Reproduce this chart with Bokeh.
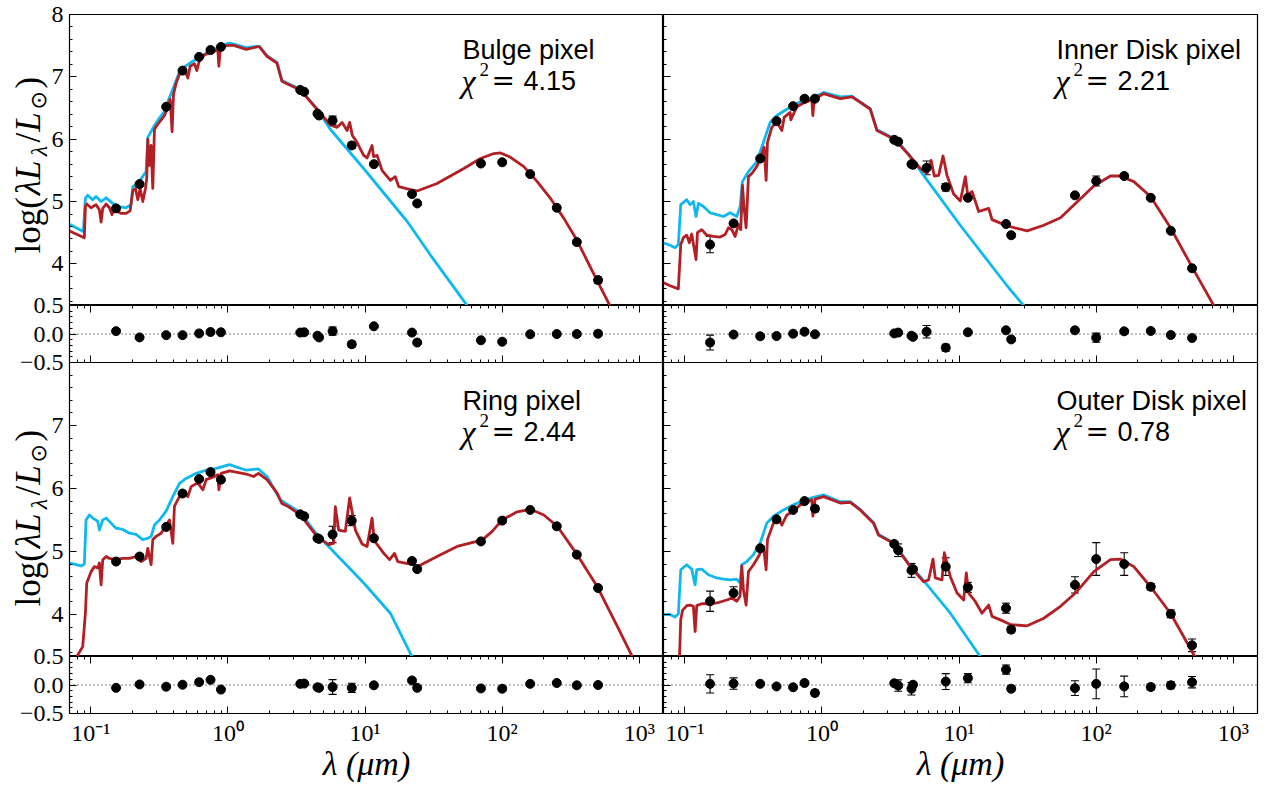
import math
from bokeh.plotting import figure
from bokeh.models import (Range1d, FixedTicker, CustomJSTickFormatter, LogAxis, Label,
                          Span, Whisker, TeeHead, ColumnDataSource)
from bokeh.layouts import row, column
from bokeh.embed import file_html
from bokeh.resources import INLINE

# ---------------------------------------------------------------- data
PANEL_NAMES = ["Bulge pixel", "Inner Disk pixel", "Ring pixel", "Outer Disk pixel"]
CHI2 = ["4.15", "2.21", "2.44", "0.78"]

# photometric bands (micron)
LAM_OBS = [0.153, 0.227, 0.355, 0.467, 0.617, 0.747, 0.89, 3.37, 3.6, 4.5, 4.62, 5.8,
           8.0, 11.6, 22.0, 24.0, 70.0, 100.0, 160.0, 250.0, 350.0, 500.0]

BULGE_OBS = [4.89, 5.28, 6.52, 7.10, 7.32, 7.43, 7.48, 6.79, 6.76, 6.41, 6.38, 6.30,
             5.90, 5.60, 5.12, 4.97, 5.61, 5.63, 5.44, 4.90, 4.35, 3.74]
BULGE_ERR = [0.02, 0.02, 0.02, 0.02, 0.02, 0.02, 0.02, 0.02, 0.02, 0.02, 0.02, 0.07,
             0.05, 0.02, 0.02, 0.03, 0.03, 0.03, 0.02, 0.02, 0.03, 0.05]
BULGE_RES = [0.05, -0.06, -0.02, -0.02, 0.01, 0.035, 0.03, 0.025, 0.03, -0.03, -0.06, 0.05,
             -0.18, 0.135, 0.025, -0.15, -0.11, -0.135, -0.005, 0.0, 0.0, 0.005]

INNER_OBS = [4.31, 4.65, 5.69, 6.29, 6.53, 6.65, 6.65, 5.99, 5.96, 5.60, 5.59, 5.54,
             5.23, 5.06, 4.64, 4.46, 5.10, 5.33, 5.41, 5.06, 4.53, 3.93]
INNER_ERR = [0.13, 0.03, 0.02, 0.02, 0.02, 0.02, 0.02, 0.02, 0.02, 0.02, 0.02, 0.11,
             0.06, 0.02, 0.02, 0.03, 0.03, 0.08, 0.03, 0.02, 0.03, 0.03]
INNER_RES = [-0.15, -0.01, -0.04, -0.035, 0.005, 0.04, -0.005, 0.01, 0.025, -0.03, -0.05, 0.04,
             -0.24, 0.03, 0.065, -0.095, 0.065, -0.065, 0.047, 0.053, -0.018, -0.07]

RING_OBS = [4.84, 4.92, 5.39, 5.92, 6.15, 6.26, 6.14, 5.59, 5.56, 5.21, 5.20, 5.27,
            5.49, 5.21, 4.85, 4.72, 5.16, 5.49, 5.66, 5.40, 4.95, 4.42]
RING_ERR = [0.03, 0.03, 0.03, 0.02, 0.02, 0.02, 0.02, 0.02, 0.03, 0.02, 0.02, 0.13,
            0.08, 0.03, 0.03, 0.03, 0.03, 0.04, 0.02, 0.02, 0.02, 0.02]
RING_RES = [-0.05, 0.01, -0.03, 0.005, 0.05, 0.09, -0.08, 0.02, 0.025, -0.04, -0.05, -0.035,
            -0.05, -0.005, 0.08, -0.05, -0.06, -0.065, 0.02, 0.035, -0.005, 0.0]

OUTER_OBS = [4.21, 4.34, 5.05, 5.51, 5.66, 5.80, 5.68, 5.12, 5.02, 4.70, 4.72, None,
             4.76, 4.43, 4.10, 3.76, 4.47, 4.88, 4.80, 4.44, 4.01, 3.51]
OUTER_ERR = [0.16, 0.10, 0.02, 0.02, 0.02, 0.02, 0.05, 0.02, 0.10, 0.11, 0.02, None,
             0.14, 0.08, 0.08, 0.05, 0.13, 0.26, 0.18, 0.05, 0.06, 0.10]
OUTER_RES = [0.02, 0.025, 0.02, -0.025, -0.04, 0.035, -0.14, 0.03, -0.01, -0.065, 0.005, None,
             0.06, 0.12, 0.27, -0.065, -0.055, 0.02, -0.025, -0.035, -0.005, 0.05]

# model SEDs: (lambda [micron], log(lambda L_lambda / Lsun))
BULGE_RED = [(0.0695, 4.53), (0.0781, 4.48), (0.0898, 4.42), (0.0914, 4.92), (0.0935, 4.96),
             (0.1005, 4.90), (0.1093, 4.95), (0.1156, 4.87), (0.119, 4.67), (0.1223, 4.89),
             (0.1294, 4.96), (0.1368, 4.90), (0.143, 4.79), (0.1488, 4.90), (0.1574, 4.84),
             (0.1664, 4.81), (0.181, 4.81), (0.1936, 4.85), (0.2025, 5.17), (0.2118, 5.21),
             (0.2203, 5.03), (0.229, 5.21), (0.2395, 5.00), (0.2505, 5.21), (0.256, 5.37),
             (0.2606, 6.00), (0.268, 5.58), (0.2755, 5.90), (0.2834, 5.21), (0.2914, 6.16),
             (0.3083, 6.24), (0.326, 6.31), (0.3447, 6.38), (0.3646, 6.51), (0.3793, 6.64),
             (0.392, 6.12), (0.401, 6.72), (0.4195, 6.90), (0.4436, 7.04), (0.4825, 7.12),
             (0.5105, 6.98), (0.5307, 7.17), (0.5706, 7.21), (0.5935, 7.10), (0.6207, 7.27),
             (0.675, 7.35), (0.7345, 7.39), (0.7988, 7.41), (0.845, 7.43), (0.859, 7.17),
             (0.879, 7.44), (0.972, 7.50), (1.087, 7.51), (1.36, 7.44), (1.628, 7.48),
             (1.70, 7.48), (1.926, 7.33), (2.279, 7.22), (2.478, 6.93), (2.696, 6.89),
             (3.37, 6.79), (4.46, 6.48), (5.58, 6.23), (6.25, 6.19), (6.80, 6.27),
             (7.39, 6.14), (7.72, 6.27), (8.08, 6.06), (8.74, 5.95), (9.77, 5.74),
             (10.34, 5.70), (11.25, 5.90), (11.55, 5.72), (12.24, 5.74), (13.3, 5.50),
             (15.3, 5.34), (16.6, 5.40), (17.6, 5.24), (21.4, 5.19), (24.0, 5.17),
             (33.5, 5.29), (52.5, 5.53), (69.4, 5.69), (86.8, 5.77), (97.2, 5.78),
             (115.0, 5.71), (143.8, 5.56), (180.0, 5.32), (225.0, 5.05), (281.6, 4.73),
             (352.7, 4.37), (441.0, 3.94), (610.0, 3.33)]
BULGE_BLUE = [(0.0695, 4.64), (0.0781, 4.58), (0.0883, 4.52), (0.0914, 5.05), (0.0950, 5.10),
              (0.1034, 5.03), (0.1093, 5.08), (0.119, 5.00), (0.1294, 5.06), (0.1447, 4.97),
              (0.1618, 4.92), (0.181, 4.90), (0.1968, 4.95), (0.2025, 5.24), (0.2203, 5.29),
              (0.2533, 5.48), (0.2606, 6.03), (0.2914, 6.22), (0.3169, 6.34), (0.3447, 6.45),
              (0.3646, 6.60), (0.3966, 6.80), (0.4195, 6.94), (0.4436, 7.08), (0.4825, 7.16),
              (0.5549, 7.25), (0.6207, 7.31), (0.6945, 7.38), (0.7988, 7.44), (0.8688, 7.48),
              (0.972, 7.53), (1.028, 7.54), (1.087, 7.53), (1.36, 7.47), (1.628, 7.49),
              (1.70, 7.49), (1.926, 7.34), (2.279, 7.23), (2.478, 6.94), (2.696, 6.90),
              (3.37, 6.80), (4.46, 6.49), (5.58, 6.16), (9.77, 5.53), (20.3, 4.68),
              (29.8, 4.15), (55.6, 3.33)]

INNER_RED = [(0.0695, 3.70), (0.0781, 3.65), (0.0898, 3.60), (0.0935, 4.31), (0.0977, 4.42),
             (0.1034, 4.46), (0.1081, 4.34), (0.1124, 4.48), (0.1209, 4.07), (0.1237, 4.50),
             (0.133, 4.55), (0.1447, 4.46), (0.1618, 4.44), (0.181, 4.43), (0.1968, 4.47),
             (0.2083, 4.58), (0.2203, 4.55), (0.2329, 4.44), (0.2463, 4.63), (0.256, 4.55),
             (0.2634, 5.26), (0.271, 4.89), (0.2802, 4.58), (0.2914, 5.40), (0.3083, 5.45),
             (0.3352, 5.56), (0.3646, 5.77), (0.3793, 5.87), (0.392, 5.34), (0.401, 5.95),
             (0.4312, 6.19), (0.469, 6.28), (0.5105, 6.14), (0.5307, 6.35), (0.5869, 6.43),
             (0.5935, 6.31), (0.6566, 6.52), (0.7345, 6.58), (0.845, 6.63), (0.859, 6.38),
             (0.879, 6.64), (1.028, 6.73), (1.36, 6.65), (1.656, 6.68), (1.904, 6.59),
             (2.253, 6.48), (2.52, 6.14), (2.74, 6.10), (3.43, 5.99), (4.29, 5.75),
             (5.22, 5.53), (5.84, 5.45), (6.25, 5.66), (6.60, 5.41), (7.10, 5.42),
             (7.64, 5.73), (8.17, 5.42), (9.13, 5.12), (10.22, 5.01), (11.12, 5.40),
             (11.56, 5.11), (12.45, 5.16), (13.9, 4.84), (16.45, 4.89), (17.4, 4.71),
             (22.4, 4.61), (31.4, 4.53), (41.5, 4.62), (54.9, 4.74), (70.6, 4.97),
             (96.1, 5.25), (127.0, 5.41), (150.0, 5.41), (188.0, 5.32), (249.0, 5.08),
             (348.0, 4.58), (515.0, 3.90), (721.0, 3.33)]
INNER_BLUE = [(0.0695, 4.34), (0.0781, 4.30), (0.0849, 4.26), (0.0898, 4.31), (0.0935, 4.95),
              (0.1034, 5.03), (0.1093, 4.95), (0.1156, 5.00), (0.1209, 4.76), (0.1258, 4.97),
              (0.1368, 4.92), (0.153, 4.82), (0.1712, 4.79), (0.1914, 4.76), (0.2141, 4.82),
              (0.2395, 4.76), (0.2533, 4.92), (0.2634, 5.32), (0.2914, 5.48), (0.3352, 5.64),
              (0.375, 5.95), (0.4195, 6.27), (0.469, 6.38), (0.5549, 6.48), (0.6945, 6.60),
              (0.8688, 6.67), (1.028, 6.75), (1.36, 6.68), (1.656, 6.69), (1.904, 6.60),
              (2.253, 6.49), (2.52, 6.15), (2.74, 6.11), (3.43, 6.00), (4.29, 5.76),
              (5.52, 5.42), (10.2, 4.62), (22.4, 3.65), (29.6, 3.33)]

RING_RED = [(0.0781, 3.31), (0.0874, 3.49), (0.0914, 4.02), (0.0935, 4.50), (0.0966, 4.58),
            (0.1005, 4.68), (0.1063, 4.76), (0.1124, 4.74), (0.1156, 4.82), (0.119, 4.47),
            (0.1223, 4.87), (0.1294, 4.92), (0.1368, 4.89), (0.153, 4.87), (0.1712, 4.89),
            (0.1914, 4.89), (0.2141, 4.92), (0.2329, 4.84), (0.2533, 4.89), (0.2606, 5.05),
            (0.2755, 4.79), (0.2834, 5.19), (0.2997, 5.24), (0.326, 5.29), (0.3544, 5.42),
            (0.375, 5.50), (0.3966, 5.13), (0.4077, 5.72), (0.4436, 5.87), (0.4825, 5.95),
            (0.5105, 5.87), (0.5396, 6.03), (0.6035, 6.09), (0.6566, 5.98), (0.6945, 6.14),
            (0.7769, 6.18), (0.845, 6.22), (0.859, 5.98), (0.8935, 6.24), (1.028, 6.28),
            (1.36, 6.23), (1.54, 6.19), (1.67, 6.24), (1.93, 6.14), (2.28, 5.93),
            (2.48, 5.76), (2.77, 5.71), (3.37, 5.58), (4.46, 5.24), (5.43, 5.11),
            (5.90, 5.13), (6.07, 5.71), (6.42, 5.34), (7.18, 5.32), (7.72, 5.85),
            (8.50, 5.34), (9.51, 5.12), (10.34, 5.08), (11.25, 5.53), (11.69, 5.17),
            (13.7, 4.97), (15.1, 4.87), (16.4, 4.97), (17.3, 4.84), (21.4, 4.80),
            (24.6, 4.77), (33.5, 4.92), (46.9, 5.08), (62.1, 5.15), (71.4, 5.18),
            (84.5, 5.32), (100.0, 5.50), (128.5, 5.63), (161.0, 5.67), (201.0, 5.58),
            (252.0, 5.40), (352.0, 4.95), (494.0, 4.44), (691.0, 3.81), (889.0, 3.33)]
RING_BLUE = [(0.0695, 4.82), (0.0781, 4.79), (0.0849, 4.77), (0.0898, 4.80), (0.0924, 5.50),
             (0.0977, 5.58), (0.1034, 5.53), (0.1124, 5.48), (0.1156, 5.34), (0.1223, 5.50),
             (0.1294, 5.53), (0.1406, 5.45), (0.153, 5.37), (0.1712, 5.35), (0.1914, 5.29),
             (0.2141, 5.27), (0.2395, 5.19), (0.2606, 5.21), (0.2755, 5.24), (0.2914, 5.42),
             (0.3169, 5.50), (0.3544, 5.64), (0.3966, 5.87), (0.4436, 6.08), (0.4961, 6.16),
             (0.5869, 6.24), (0.6945, 6.29), (0.8214, 6.32), (1.028, 6.38), (1.36, 6.29),
             (1.67, 6.31), (1.93, 6.19), (2.41, 5.82), (3.37, 5.62), (4.46, 5.27),
             (5.58, 5.05), (9.78, 4.50), (15.3, 4.02), (22.0, 3.33)]

OUTER_RED = [(0.0914, 3.28), (0.0935, 3.92), (0.0966, 4.07), (0.1034, 4.14), (0.1093, 4.15),
             (0.1156, 4.13), (0.119, 3.73), (0.1223, 4.14), (0.133, 4.17), (0.153, 4.17),
             (0.176, 4.19), (0.2025, 4.23), (0.2203, 4.26), (0.2395, 4.21), (0.2533, 4.29),
             (0.2606, 4.77), (0.268, 4.39), (0.2802, 4.15), (0.2914, 4.68), (0.3169, 4.79),
             (0.3447, 4.92), (0.375, 5.08), (0.392, 4.71), (0.401, 5.19), (0.4436, 5.45),
             (0.4825, 5.53), (0.5105, 5.42), (0.5549, 5.58), (0.6207, 5.64), (0.6945, 5.74),
             (0.7769, 5.78), (0.845, 5.82), (0.859, 5.56), (0.8935, 5.83), (1.028, 5.87),
             (1.36, 5.77), (1.61, 5.78), (1.90, 5.66), (2.38, 5.45), (2.59, 5.26),
             (3.33, 5.13), (4.41, 4.76), (5.52, 4.52), (6.0, 4.55), (6.46, 4.88),
             (6.71, 4.58), (7.51, 4.55), (7.81, 4.98), (8.64, 4.60), (9.67, 4.34),
             (10.8, 4.23), (11.3, 4.66), (11.75, 4.34), (13.1, 4.21), (14.7, 4.02),
             (16.45, 4.15), (17.4, 3.97), (21.2, 3.89), (23.7, 3.84), (31.4, 3.82),
             (41.5, 3.94), (54.9, 4.13), (70.6, 4.34), (96.1, 4.68), (127.0, 4.87),
             (150.0, 4.88), (188.0, 4.76), (249.0, 4.44), (348.0, 4.02), (515.0, 3.36),
             (533.0, 3.31)]
OUTER_BLUE = [(0.0695, 4.00), (0.0781, 4.00), (0.0849, 3.96), (0.0898, 4.01), (0.0935, 4.71),
              (0.1034, 4.79), (0.1124, 4.72), (0.119, 4.47), (0.1223, 4.71), (0.133, 4.72),
              (0.1488, 4.63), (0.1712, 4.58), (0.1914, 4.56), (0.2141, 4.55), (0.2395, 4.56),
              (0.2533, 4.50), (0.2606, 4.79), (0.2834, 4.84), (0.3169, 4.95), (0.3544, 5.13),
              (0.3966, 5.45), (0.4436, 5.56), (0.5248, 5.66), (0.6207, 5.74), (0.7345, 5.81),
              (0.8688, 5.86), (1.028, 5.90), (1.36, 5.79), (1.61, 5.79), (1.90, 5.67),
              (2.38, 5.46), (2.59, 5.27), (3.33, 5.14), (4.41, 4.77), (5.22, 4.60),
              (8.64, 4.02), (14.3, 3.33)]

PANELS = [
    (BULGE_RED, BULGE_BLUE, BULGE_OBS, BULGE_ERR, BULGE_RES),
    (INNER_RED, INNER_BLUE, INNER_OBS, INNER_ERR, INNER_RES),
    (RING_RED, RING_BLUE, RING_OBS, RING_ERR, RING_RES),
    (OUTER_RED, OUTER_BLUE, OUTER_OBS, OUTER_ERR, OUTER_RES),
]

# axis settings
X_RANGE = (0.07, 1500.0)
Y_MAIN = (3.333, 8.0)
Y_RES = (-0.5, 0.5)
X_MAJOR = [0.1, 1.0, 10.0, 100.0, 1000.0]
X_MINOR = [round(m * d, 4) for d in (0.01, 0.1, 1.0, 10.0, 100.0) for m in range(2, 10)
           if X_RANGE[0] <= m * d <= X_RANGE[1]]
Y_MAJOR_TOP = [4, 5, 6, 7, 8]
Y_MAJOR_BOT = [4, 5, 6, 7]
Y_MINOR = [3.4, 3.6, 3.8, 4.2, 4.4, 4.6, 4.8, 5.2, 5.4, 5.6, 5.8, 6.2, 6.4, 6.6, 6.8,
           7.2, 7.4, 7.6, 7.8]
R_MAJOR = [-0.5, 0.0, 0.5]
R_MINOR = [-0.4, -0.3, -0.2, -0.1, 0.1, 0.2, 0.3, 0.4]
X_LABEL = "\u03bb (\u03bcm)"

RED = "#B21F24"
BLUE = "#10B8EE"
SERIF = "Liberation Serif"
SANS = "Liberation Sans"

FRAME_W = 594
FRAME_MAIN, FRAME_RES = 294, 57
TOP_BORDER = 14                          # room above the first row for the "8" label
FRAME_TOP = FRAME_MAIN + 11 - TOP_BORDER  # first-row frame ends at the same place
YLAB_W = 46          # visible width of the strip holding the rotated y label
YLAB_CANVAS = 160    # its canvas is wider and slides under the panel's border
LEFT_BORDER = 69     # page x of the left frames
PAD = 18

EMPTY = "return '';"
EXP_FMT = ("const e = Math.round(Math.log10(tick));"
           "const s = {'-':'\u207b','0':'\u2070','1':'\u00b9','2':'\u00b2','3':'\u00b3'};"
           "return '10' + String(e).split('').map(c => s[c]).join('');")
RES_FMT = ("if (Math.abs(tick) < 1e-9) return '0.0';"
           "return (tick < 0 ? '\u2212' : '') + Math.abs(tick).toFixed(1);")
INT_FMT = "return tick.toFixed(0);"


def style_axis(ax, code, labels=True):
    ax.major_tick_in = 7
    ax.major_tick_out = 0
    ax.minor_tick_in = 3
    ax.minor_tick_out = 0
    ax.axis_line_color = "black"
    ax.axis_line_width = 1
    ax.major_tick_line_color = "black"
    ax.minor_tick_line_color = "black"
    ax.major_label_text_font = SERIF
    ax.major_label_text_font_size = "24px"
    ax.major_label_text_color = "black"
    ax.formatter = CustomJSTickFormatter(code=code if labels else EMPTY)
    ax.major_label_standoff = 6 if labels else 0


def base_fig(frame_h, y_range, left_border, right_border, top_border, bottom_border, x_loc):
    p = figure(frame_width=FRAME_W, frame_height=frame_h, x_axis_type="log",
               x_range=Range1d(*X_RANGE), y_range=Range1d(*y_range),
               x_axis_location=x_loc, y_axis_location="left",
               min_border_left=left_border, min_border_right=right_border,
               min_border_top=top_border, min_border_bottom=bottom_border,
               output_backend="svg", toolbar_location=None)
    p.grid.visible = False
    p.outline_line_color = "black"
    p.outline_line_width = 1.2
    p.background_fill_color = None
    p.border_fill_color = None
    return p


# pieces of log(lambda L_lambda / L_sun): text, style, font, size, centre x, advance (em)
YPIECES = [("log(", "normal", SERIF, 35, 28, 1.62),
           ("\u03bbL", "italic", SERIF, 35, 28, 1.08),
           ("\u03bb", "italic", SERIF, 24, 38, 0.38),
           ("/", "normal", SERIF, 35, 28, 0.30),
           ("L", "italic", SERIF, 35, 28, 0.62),
           ("\u2299", "normal", "DejaVu Sans", 22, 38, 0.58),
           (")", "normal", SERIF, 35, 28, 0.34)]


def ylabel_fig(height, start_y):
    f = figure(width=YLAB_CANVAS, height=height, x_range=Range1d(0, 1), y_range=Range1d(0, 1),
               x_axis_location=None, y_axis_location=None,
               min_border_left=0, min_border_right=0, min_border_top=0, min_border_bottom=0,
               output_backend="svg", toolbar_location=None,
               margin=(0, YLAB_W - YLAB_CANVAS, 0, 0))
    f.grid.visible = False
    f.outline_line_color = None
    f.background_fill_color = None
    f.border_fill_color = None
    y = start_y
    for txt, style, font, size, cx, w in YPIECES:
        f.add_layout(Label(x=cx, y=y, x_units="screen", y_units="screen", text=txt,
                           angle=math.pi / 2, text_font=font, text_font_style=style,
                           text_font_size=f"{size}px", text_baseline="alphabetic",
                           text_align="left", text_color="black"))
        y += w * 36.0
    return f


def add_title(p, name, chi):
    common = dict(x_units="screen", y_units="screen", text_baseline="alphabetic",
                  text_align="left", text_color="black")
    p.add_layout(Label(x=393, y=256, text=name, text_font=SANS, text_font_size="27px", **common))
    p.add_layout(Label(x=392, y=225, text="\u03c7", text_font=SERIF, text_font_style="italic",
                       text_font_size="32px", **common))
    p.add_layout(Label(x=410, y=236, text="2", text_font=SERIF, text_font_size="19px", **common))
    p.add_layout(Label(x=422, y=225, text="=", text_font="DejaVu Serif", text_font_size="28px", **common))
    p.add_layout(Label(x=454, y=225, text=chi, text_font=SANS, text_font_size="27px", **common))


def obs_source(obs, err):
    xs, ys, lo, hi = [], [], [], []
    for lam, v, e in zip(LAM_OBS, obs, err):
        if v is None:
            continue
        xs.append(lam)
        ys.append(v)
        lo.append(v - e)
        hi.append(v + e)
    return ColumnDataSource(dict(x=xs, y=ys, lower=lo, upper=hi))


def add_points(p, src):
    head = dict(size=8, line_color="black", line_width=1.1)
    p.add_layout(Whisker(source=src, base="x", upper="upper", lower="lower", dimension="height",
                         line_color="black", line_width=1.1,
                         upper_head=TeeHead(**head), lower_head=TeeHead(**head)))
    p.scatter("x", "y", source=src, size=9, color="black", marker="circle")


mains, resids = [], []
for i, (red, blue, obs, err, res) in enumerate(PANELS):
    left = i % 2 == 0
    top = i < 2
    lb_main = LEFT_BORDER - YLAB_W if left else 0
    lb_res = LEFT_BORDER if left else 0
    rb = 0 if left else 4

    # ---- main SED panel
    m = base_fig(FRAME_TOP if top else FRAME_MAIN, Y_MAIN, lb_main, rb,
                 TOP_BORDER if top else 0, 0, None)
    style_axis(m.yaxis[0], INT_FMT, labels=left)
    m.yaxis[0].ticker = FixedTicker(ticks=Y_MAJOR_TOP if top else Y_MAJOR_BOT, minor_ticks=Y_MINOR)
    m.line([a for a, _ in blue], [b for _, b in blue], line_color=BLUE, line_width=2.8,
           line_join="round")
    m.line([a for a, _ in red], [b for _, b in red], line_color=RED, line_width=2.8,
           line_join="round")
    add_points(m, obs_source(obs, err))
    add_title(m, PANEL_NAMES[i], CHI2[i])
    mains.append(m)

    # ---- residual panel
    r = base_fig(FRAME_RES, Y_RES, lb_res, rb, PAD, PAD if top else 10, "below")
    style_axis(r.yaxis[0], RES_FMT, labels=left)
    r.yaxis[0].ticker = FixedTicker(ticks=R_MAJOR, minor_ticks=R_MINOR)
    style_axis(r.xaxis[0], EXP_FMT, labels=not top)
    r.xaxis[0].ticker = FixedTicker(ticks=X_MAJOR, minor_ticks=X_MINOR)
    if not top:
        ax = r.xaxis[0]
        ax.major_label_standoff = 6
        ax.axis_label = X_LABEL
        ax.axis_label_text_font = SERIF
        ax.axis_label_text_font_style = "italic"
        ax.axis_label_text_font_size = "34px"
        ax.axis_label_text_color = "black"
        ax.axis_label_standoff = -4
    top_ax = LogAxis(ticker=FixedTicker(ticks=X_MAJOR, minor_ticks=X_MINOR))
    style_axis(top_ax, EMPTY, labels=False)
    r.add_layout(top_ax, "above")
    r.add_layout(Span(location=0, dimension="width", line_color="black", line_dash="1 3",
                      line_width=1.2))
    add_points(r, obs_source(res, err))
    resids.append(r)

layout = column(
    row(ylabel_fig(TOP_BORDER + FRAME_TOP, 52), mains[0], mains[1]),
    row(resids[0], resids[1], margin=(-PAD, 0, -PAD, 0)),
    row(ylabel_fig(FRAME_MAIN, 50), mains[2], mains[3]),
    row(resids[2], resids[3], margin=(-PAD, 0, 0, 0)),
)

open("out.html", "w").write(file_html(layout, INLINE, title="SED fits"))
